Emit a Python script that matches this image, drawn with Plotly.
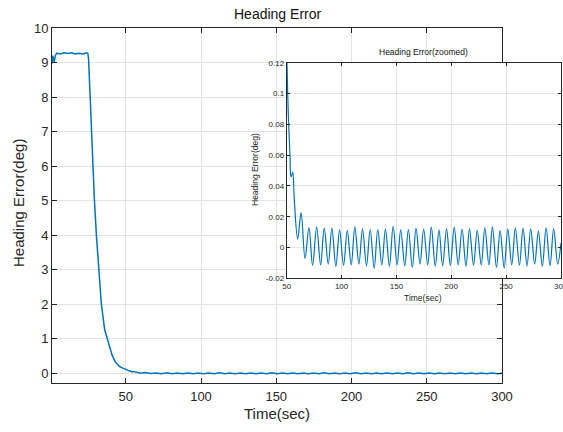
import plotly.graph_objects as go

# ---- data ----
time_sec = [1.0, 1.5, 2.5, 3.2, 4.1, 6.5, 9.0, 11.5, 14.0, 16.5, 19.0, 21.5, 24.0, 24.8,
            25.3, 26.5, 27.8, 29.2, 30.5, 31.9, 33.8, 36.0, 37.8, 39.5, 41.0, 43.0, 45.7, 48.0,
            50.0, 50.9, 51.8, 53.0, 53.6, 54.2, 55.5, 57.0, 60.0, 63.1, 66.7,
            70.3, 73.6, 77.3, 80.9, 84.2, 87.9, 91.2, 94.8, 98.2, 101.8, 105.2, 108.8,
            112.1, 115.8, 119.1, 122.7, 126.1, 129.7, 133.0, 136.7, 140.0, 143.6, 147.0,
            150.6, 153.9, 157.6, 160.9, 164.5, 167.9, 171.5, 174.8, 178.5, 181.8, 185.4,
            188.8, 192.1, 195.7, 199.1, 202.7, 206.3, 209.8, 213.4, 216.6, 220.3, 223.6,
            227.3, 230.6, 234.3, 237.5, 241.2, 244.5, 248.2, 251.5, 255.1, 258.4, 262.1,
            265.4, 269.0, 272.4, 276.0, 279.4, 283.0, 286.4, 290.0, 293.3, 297.0, 300.0]
heading_err = [8.97, 9.20, 9.02, 9.20, 9.27, 9.25, 9.28, 9.26, 9.28, 9.25, 9.27, 9.25, 9.28, 9.27,
               9.10, 7.80, 6.20, 5.00, 4.00, 3.00, 2.00, 1.26, 0.98, 0.72, 0.52, 0.33, 0.20, 0.15,
               0.125, 0.100, 0.080, 0.060, 0.047, 0.046, 0.049, 0.030, 0.0054, 0.0226, -0.0071,
               0.0128, -0.0117, 0.0132, -0.0113, 0.0126, -0.0108, 0.0126, -0.0123, 0.0115, -0.0117,
               0.0109, -0.0113, 0.0134, -0.0108, 0.0121, -0.0119, 0.0117, -0.0134, 0.0117, -0.0113,
               0.0119, -0.0123, 0.0138, -0.0113, 0.0115, -0.0119, 0.0117, -0.0130, 0.0126, -0.0108,
               0.0120, -0.0113, 0.0132, -0.0123, 0.0115, -0.0119, 0.0121, -0.0117, 0.0132, -0.0113,
               0.0119, -0.0123, 0.0121, -0.0117, 0.0109, -0.0113, 0.0128, -0.0113, 0.0134, -0.0130,
               0.0109, -0.0134, 0.0121, -0.0113, 0.0128, -0.0117, 0.0126, -0.0119, 0.0121, -0.0108,
               0.0106, -0.0123, 0.0128, -0.0119, 0.0121, -0.0108, 0.0030]

main_xticks = [50, 100, 150, 200, 250, 300]
main_yticks = list(range(0, 11))
inset_xticks = [50, 100, 150, 200, 250]
inset_last_xtick = 300
inset_yticks = [-0.02, 0, 0.02, 0.04, 0.06, 0.08, 0.1, 0.12]
inset_yticklabels = ["-0.02", "0", "0.02", "0.04", "0.06", "0.08", "0.1", "0.12"]

LINE = "#0072BD"
AX = "#262626"
GRID = "#e3e3e3"
FONT = "Liberation Sans, Arial, sans-serif"

# paper: l=52, r=2, t=28, b=49 -> width 509, height 355
PW, PH, L, B_PX = 509.0, 355.0, 52.0, 383.0
def px(x):
    return (x - L) / PW
def py(y):
    return (B_PX - y) / PH

fig = go.Figure()
fig.add_trace(go.Scatter(x=time_sec, y=heading_err, mode="lines",
                         line=dict(color=LINE, width=1.5), xaxis="x", yaxis="y",
                         showlegend=False, hoverinfo="skip"))
fig.add_trace(go.Scatter(x=time_sec, y=heading_err, mode="lines",
                         line=dict(color=LINE, width=1.2, shape="spline", smoothing=1.0),
                         xaxis="x2", yaxis="y2", showlegend=False, hoverinfo="skip"))

common = dict(showline=True, linecolor=AX, linewidth=1, mirror="ticks", ticks="inside",
              tickcolor=AX, showgrid=True, gridcolor=GRID, gridwidth=1, zeroline=False,
              automargin=False)

fig.update_layout(
    width=563, height=432, autosize=False,
    margin=dict(l=52, r=2, t=28, b=49, pad=0),
    paper_bgcolor="white", plot_bgcolor="white", showlegend=False,
    xaxis=dict(domain=[0, 450 / PW], range=[1, 300], tickvals=main_xticks,
               ticklen=5, ticklabelstandoff=1,
               tickfont=dict(family=FONT, color=AX, size=13), **common),
    yaxis=dict(domain=[0, 1], range=[-0.28, 10], tickvals=main_yticks,
               ticklen=5, tickfont=dict(family=FONT, color=AX, size=13), **common),
    xaxis2=dict(domain=[px(286.7), 1.0], range=[50, 300], tickvals=inset_xticks,
                anchor="y2", ticklen=3,
                tickfont=dict(family=FONT, color=AX, size=8), **common),
    yaxis2=dict(domain=[py(278.3), py(62.7)], range=[-0.02, 0.12], tickvals=inset_yticks,
                ticktext=inset_yticklabels, anchor="x2", ticklen=3,
                tickfont=dict(family=FONT, color=AX, size=8), **common),
    annotations=[
        dict(text="Heading Error", x=px(277), y=py(14), xref="paper", yref="paper",
             xanchor="center", yanchor="middle",
             showarrow=False, font=dict(family=FONT, size=14, color="#111")),
        dict(text="Time(sec)", x=px(277), y=py(414), xref="paper", yref="paper",
             xanchor="center", yanchor="middle",
             showarrow=False, font=dict(family=FONT, size=15, color=AX)),
        dict(text="Heading Error(deg)", x=px(18), y=py(203), xref="paper", yref="paper",
             xanchor="center", yanchor="middle",
             showarrow=False, textangle=-90, font=dict(family=FONT, size=15, color=AX)),
        dict(text="Heading Error(zoomed)", x=px(423), y=py(52), xref="paper", yref="paper",
             xanchor="center", yanchor="middle",
             showarrow=False, font=dict(family=FONT, size=8.5, color="#111")),
        dict(text="Time(sec)", x=px(423), y=py(298), xref="paper", yref="paper",
             xanchor="center", yanchor="middle",
             showarrow=False, font=dict(family=FONT, size=8.5, color=AX)),
        dict(text="Heading Error(deg)", x=px(255), y=py(170), xref="paper", yref="paper",
             xanchor="center", yanchor="middle",
             showarrow=False, textangle=-90, font=dict(family=FONT, size=8.5, color=AX)),
        dict(text=str(inset_last_xtick), x=inset_last_xtick, y=-0.02, xref="x2", yref="y2",
             xanchor="center", yanchor="top", yshift=-2,
             showarrow=False, font=dict(family=FONT, size=8, color=AX)),
    ],
)

fig.write_html("out.html")
